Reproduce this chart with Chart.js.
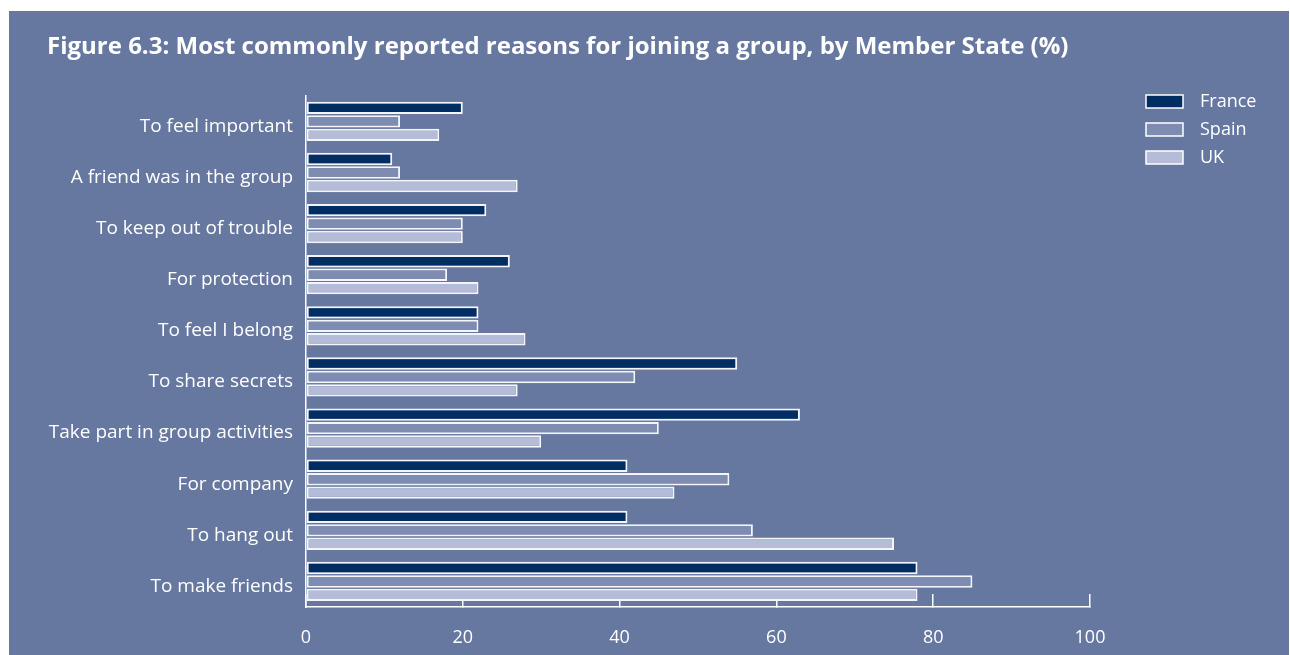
<!DOCTYPE html>
<html>
<head>
<meta charset="utf-8">
<script src="https://cdn.jsdelivr.net/npm/chart.js@4.4.0/dist/chart.umd.min.js"></script>
<style>
  html, body { margin: 0; padding: 0; background: #ffffff; }
  #panel {
    position: absolute;
    left: 9px;
    top: 11px;
    width: 1280px;
    height: 644px;
    background: #6677a0;
  }
</style>
</head>
<body>
<div id="panel"><canvas id="reasons-chart" width="1280" height="644"></canvas></div>
<script>
/* =================================
  data
==================================== */
const reasons = [
    'To feel important',
    'A friend was in the group',
    'To keep out of trouble',
    'For protection',
    'To feel I belong',
    'To share secrets',
    'Take part in group activities',
    'For company',
    'To hang out',
    'To make friends'
];
const france = [20, 11, 23, 26, 22, 55, 63, 41, 41, 78];
const spain = [12, 12, 20, 18, 22, 42, 45, 54, 57, 85];
const uk = [17, 27, 20, 22, 28, 27, 30, 47, 75, 78];
const xTicks = [0, 20, 40, 60, 80, 100];

/* =================================
  styles
==================================== */
const font = '"Open Sans", "DejaVu Sans", sans-serif';
const white = '#ffffff';
const colours = ['#002d62', '#7e8cb1', '#b4bcd7'];

// legend boxes drawn by hand at the top right of the panel
const sideLegend = {
    id: 'sideLegend',
    afterDraw(chart) {
        const ctx = chart.ctx;
        ctx.save();
        ctx.font = '18px ' + font;
        ctx.textBaseline = 'middle';
        chart.data.datasets.forEach((ds, i) => {
            const y = 84 + i * 28;
            ctx.fillStyle = ds.backgroundColor;
            ctx.fillRect(1137, y, 37, 13);
            ctx.strokeStyle = white;
            ctx.lineWidth = 1.5;
            ctx.strokeRect(1137, y, 37, 13);
            ctx.fillStyle = white;
            ctx.fillText(ds.label, 1191, y + 7);
        });
        ctx.restore();
    }
};

/* =================================
  bar chart
==================================== */
const reasonsData = {
    labels: reasons,
    datasets: [
        { label: 'France', data: france },
        { label: 'Spain', data: spain },
        { label: 'UK', data: uk }
    ].map((ds, i) => ({
        ...ds,
        backgroundColor: colours[i],
        borderColor: '#f4f5fa',
        borderWidth: 2,
        borderSkipped: false,
        categoryPercentage: 0.79,
        barPercentage: 0.92
    }))
};

const reasonsOptions = {
    indexAxis: 'y',
    responsive: false,
    animation: false,
    layout: {
        padding: { left: 38, right: 199, top: 0, bottom: 9 }
    },
    scales: {
        x: {
            min: 0,
            max: 100,
            afterBuildTicks: (scale) => {
                scale.ticks = xTicks.map(v => ({ value: v }));
            },
            afterFit: (scale) => { scale.height = 39; },
            // short ticks pointing up into the plot, hidden behind the bars
            grid: {
                display: true,
                drawOnChartArea: false,
                drawTicks: true,
                tickLength: -13,
                color: white,
                lineWidth: 1.5
            },
            border: { display: true, color: white, width: 1.5 },
            ticks: {
                color: white,
                padding: 33,
                font: { family: font, size: 18 }
            }
        },
        y: {
            afterFit: (scale) => { scale.width = 259; },
            grid: { display: false, drawTicks: false },
            border: { display: true, color: white, width: 1.5 },
            ticks: {
                color: white,
                padding: 13,
                labelOffset: 5,
                font: { family: font, size: 19 }
            }
        }
    },
    plugins: {
        legend: { display: false },
        tooltip: { enabled: false },
        title: {
            display: true,
            align: 'start',
            text: 'Figure 6.3: Most commonly reported reasons for joining a group, by Member State (%)',
            color: white,
            font: { family: font, size: 24, weight: 'bold', lineHeight: 1.2 },
            padding: { top: 22, bottom: 34 }
        }
    }
};

const reasonsChart = new Chart(document.getElementById('reasons-chart'), {
    type: 'bar',
    data: reasonsData,
    options: reasonsOptions,
    plugins: [sideLegend]
});
</script>
</body>
</html>
